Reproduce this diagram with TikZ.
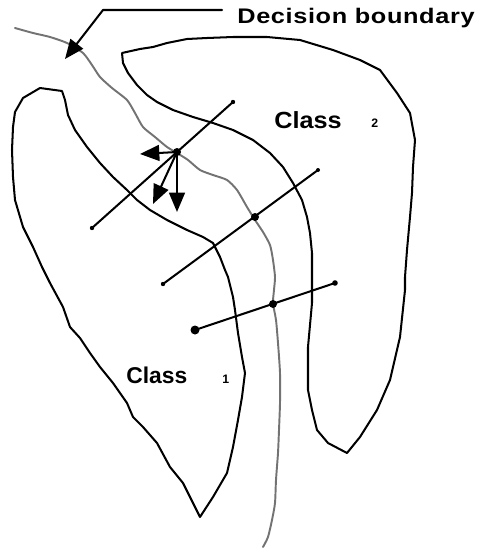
\documentclass[tikz,border=0pt]{standalone}
\usepackage{fontspec}
\setmainfont{Liberation Sans}
\usetikzlibrary{arrows.meta}

\begin{document}
\begin{tikzpicture}[x=0.02cm,y=-0.02cm,line cap=round,line join=round,>={Triangle[length=11pt,width=9pt]}]

\tikzset{
    outline/.style={line width=1.15pt},
    bound/.style={black!55,line width=1.1pt},
    label/.style={anchor=base west,inner sep=0},
    bigfont/.style={font=\bfseries\fontsize{13}{15}\selectfont},
    subfont/.style={font=\bfseries\fontsize{7}{8}\selectfont},
}

\useasboundingbox (0,0) rectangle (483,548);

% class regions
\draw[outline] plot coordinates {(40,88) (62,91) (65,100) (68,115) (75,130) (87,147) (100,163) (113,177)
    (127,190) (137,200) (150,210) (167,220) (187,230) (203,237) (213,243) (220,257) (225,270)
    (228,277) (233,297) (235,310) (238,333) (242,357) (245,373) (242,397) (238,420) (233,447)
    (227,473) (213,497) (200,517) (190,497) (183,483) (170,467) (157,443) (143,427) (133,417)
    (127,403) (113,383) (100,367) (90,353) (80,338) (70,327) (63,307) (50,283) (42,267)
    (33,247) (23,227) (15,200) (13,177) (12,150) (13,127) (15,112) (23,98) (40,88)};
\draw[outline] plot coordinates {(122,53) (140,49) (153,47) (167,43) (187,39) (207,38) (233,37)
    (267,37) (300,40) (333,50) (360,60) (380,70) (397,93) (410,113) (415,140) (413,167)
    (412,193) (410,217) (407,250) (405,277) (405,290) (400,337) (390,380) (377,410) (360,437)
    (347,453) (328,443) (317,430) (312,410) (308,390) (308,347) (312,303) (312,277) (312,253)
    (310,233) (307,217) (302,200) (293,183) (283,167) (270,153) (253,140) (233,130) (213,123)
    (193,117) (173,110) (157,102) (147,95) (137,85) (128,73) (123,63) (122,53)};

% decision boundary
\draw[bound] plot[smooth,tension=0.4] coordinates {(15,28) (33,33) (50,37) (67,43) (83,53) (92,65)
    (100,77) (112,88) (127,100) (135,113) (143,127) (155,137) (167,147) (177,153) (188,160)
    (200,170) (213,175) (227,180) (237,190) (247,207) (255,220) (263,232) (270,245) (273,260)
    (275,277) (274,290) (273,303) (276,320) (278,343) (280,373) (280,403) (279,430) (278,453)
    (276,480) (275,503) (272,520) (268,537) (263,547)};

\node[label,font=\bfseries\fontsize{12}{14}\selectfont\addfontfeature{FakeStretch=1.2,LetterSpace=3}] (dblabel) at (237,23) {Decision boundary};
\coordinate (lead) at (222,10);
\coordinate (bend) at (103,10);
\coordinate (tip) at (65,59);
\draw[outline,->] (lead) -- (bend) -- (tip);

\node[label,bigfont,font=\bfseries\fontsize{13.3}{15}\selectfont\addfontfeature{FakeStretch=1.08}] (cls2) at (274,128) {Class};
\node[label,subfont] (sub2) at (371,127) {2};
\node[label,bigfont] (cls1) at (126,383) {Class};
\node[label,subfont] (sub1) at (222,383) {1};

% projection lines
\coordinate (a1) at (92,228);  \coordinate (b1) at (233,102); \coordinate (p1) at (177,152);
\coordinate (a2) at (163,284); \coordinate (b2) at (318,170); \coordinate (p2) at (255,217);
\coordinate (a3) at (195,330); \coordinate (b3) at (335,283); \coordinate (p3) at (273,304);
\foreach \i in {1,2,3} {
    \draw[outline] (a\i) -- (b\i);
    \fill (p\i) circle (4);
}
\foreach \c/\r in {a1/2.2,b1/2.2,a2/2.2,b2/2,b3/2.8,a3/4.5} {
    \fill (\c) circle (\r);
}

% gradient arrows
\coordinate (g1) at (140,154);
\coordinate (g2) at (153,204);
\coordinate (g3) at (177,212);
\foreach \g in {g1,g2,g3} {
    \draw[outline,->] (p1) -- (\g);
}

\end{tikzpicture}
\end{document}
